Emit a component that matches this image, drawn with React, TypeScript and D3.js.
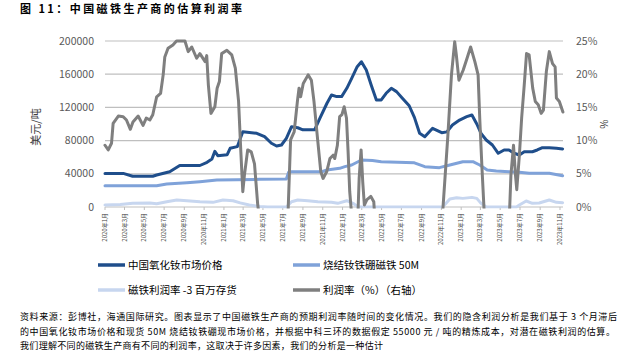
import React from "react";
import * as d3 from "d3";

// ---- Data ----
const oxideDates = ["2020-01-01","2020-02-26","2020-03-26","2020-05-27","2020-06-08","2020-07-18","2020-08-18","2020-10-19","2020-11-10","2020-11-25","2020-12-04","2020-12-13","2021-01-11","2021-01-20","2021-02-11","2021-02-28","2021-04-12","2021-05-06","2021-05-27","2021-06-12","2021-06-27","2021-07-12","2021-07-28","2021-08-16","2021-09-01","2021-10-07","2021-10-23","2021-11-14","2021-11-28","2021-12-14","2021-12-29","2022-01-14","2022-01-29","2022-02-15","2022-02-28","2022-03-15","2022-03-30","2022-04-15","2022-04-30","2022-05-15","2022-05-31","2022-06-16","2022-07-04","2022-07-25","2022-08-10","2022-08-26","2022-09-11","2022-10-05","2022-11-02","2022-11-18","2022-12-05","2022-12-27","2023-01-18","2023-02-03","2023-02-18","2023-03-03","2023-03-19","2023-04-07","2023-04-25","2023-05-13","2023-05-28","2023-06-13","2023-06-29","2023-07-14","2023-08-08","2023-08-23","2023-09-08","2023-09-29","2023-10-21","2023-11-09"];
const oxideValues = [40500,40500,37000,37000,38500,42500,50000,50000,53800,57800,67000,61800,63000,70700,72700,90700,88800,84700,76800,73500,74700,82800,96800,95500,93000,93000,106900,125000,135000,133000,133000,143000,155000,169000,175000,165000,147000,129000,129000,137000,143000,139000,131000,122000,108000,88800,84700,94800,89500,90500,98800,104800,108800,110900,100000,88800,80700,74700,64700,68700,68700,64700,62700,66600,66600,68700,71500,71500,70700,70000];

const magnetDates = ["2020-01-01","2020-06-08","2020-07-09","2020-09-09","2020-10-19","2020-12-10","2021-04-21","2021-07-12","2021-07-19","2021-07-28","2021-10-29","2021-11-14","2021-12-23","2022-01-08","2022-01-29","2022-02-28","2022-04-03","2022-04-30","2022-08-10","2022-09-11","2022-10-26","2022-11-27","2023-01-06","2023-02-06","2023-02-27","2023-03-22","2023-04-19","2023-05-28","2023-06-29","2023-07-29","2023-09-29","2023-11-09"];
const magnetValues = [25700,25700,27700,29300,30500,32500,33300,33700,42000,42500,42500,44600,46600,48600,50600,56600,56000,54600,53200,48600,47400,50600,54600,54600,50600,44600,43400,42500,41800,40600,40600,37700];

const inventoryDates = ["2020-01-01","2020-02-17","2020-03-26","2020-05-18","2020-06-08","2020-07-09","2020-08-09","2020-09-09","2020-10-19","2020-11-28","2020-12-29","2021-01-29","2021-02-20","2021-03-20","2021-04-21","2021-05-15","2021-07-12","2021-07-28","2021-08-16","2021-09-16","2021-10-17","2021-11-28","2021-12-17","2022-01-14","2022-02-02","2022-02-18","2022-11-05","2022-11-27","2022-12-18","2023-01-06","2023-02-03","2023-02-18","2023-03-03","2023-03-19","2023-06-20","2023-06-29","2023-07-20","2023-08-08","2023-08-29","2023-09-29","2023-10-21","2023-11-09"];
const inventoryValues = [2400,3000,4400,4800,4000,6400,8400,7600,6400,5600,8400,7600,5000,2400,600,0,0,6400,8400,7600,6400,5600,4400,7600,4400,0,0,9600,11200,10400,11600,10400,4400,0,0,2400,7200,4400,4800,8400,5600,5200];

const marginDates = ["2020-01-01","2020-01-11","2020-01-21","2020-01-26","2020-02-11","2020-02-26","2020-03-07","2020-03-19","2020-03-27","2020-04-12","2020-04-27","2020-05-07","2020-05-18","2020-05-27","2020-06-08","2020-06-20","2020-06-28","2020-07-03","2020-07-13","2020-07-28","2020-08-08","2020-09-03","2020-09-13","2020-09-24","2020-10-09","2020-10-19","2020-11-04","2020-11-09","2020-11-14","2020-11-22","2020-12-04","2020-12-11","2020-12-18","2020-12-25","2021-01-10","2021-01-25","2021-02-05","2021-02-15","2021-02-22","2021-02-28","2021-03-05","2021-03-15","2021-03-26","2021-04-05","2021-04-15","2021-04-27","2021-07-15","2021-07-25","2021-08-05","2021-08-15","2021-08-20","2021-08-25","2021-09-02","2021-09-17","2021-09-27","2021-10-05","2021-10-15","2021-10-26","2021-11-02","2021-11-13","2021-11-23","2021-12-03","2021-12-08","2021-12-16","2021-12-23","2021-12-30","2022-01-06","2022-01-13","2022-01-18","2022-01-23","2022-02-01","2022-02-16","2022-02-21","2022-02-27","2022-03-04","2022-03-09","2022-03-17","2022-03-29","2022-04-07","2022-04-12","2022-11-02","2022-11-21","2022-12-02","2022-12-12","2022-12-17","2022-12-25","2023-01-07","2023-01-19","2023-01-30","2023-02-12","2023-02-22","2023-02-27","2023-03-06","2023-03-15","2023-05-28","2023-06-03","2023-06-11","2023-06-17","2023-06-21","2023-06-29","2023-07-06","2023-07-14","2023-07-21","2023-07-29","2023-08-09","2023-08-17","2023-08-26","2023-09-04","2023-09-11","2023-09-20","2023-09-29","2023-10-09","2023-10-17","2023-10-21","2023-10-30","2023-11-10"];
const marginValues = [9.3,8.6,9.6,12.6,13.7,13.6,13.1,11.7,12.8,13.7,12.3,13.4,13.1,13.9,16.6,17.1,19.9,22.6,23.9,24.4,25,25,23.4,24.1,22.4,23.1,21.9,22.8,18.4,14.1,15.1,17.9,18.9,23.1,23.6,22.9,20.9,15.9,8.3,2.3,4.8,8.6,8.3,6.5,0.3,-4,-4,10.1,11.3,15.9,17.9,16.6,18.6,19.9,19.1,15.9,10.8,5.3,4.3,5.3,7.3,7.8,7.3,9.3,13.6,13.9,15.1,13.4,8.3,2.3,-3,-3,4.3,8.6,3.8,0.3,1.1,1.6,0.8,-3,-3,10.8,19.9,24.9,22.9,19.1,20.6,22.4,24.1,21.9,19.9,13.4,5.8,-3,-3,4.8,9.3,4.8,2.6,7.8,13.4,18.4,23.1,22.9,17.9,15.9,15.4,14.1,14.6,20.4,23.4,21.6,21.1,16.4,15.9,14.3];

const leftTicks = [0, 40000, 80000, 120000, 160000, 200000];
const rightTicks = [0, 5, 10, 15, 20, 25];
const tickDates = ["2020-01-01","2020-03-01","2020-05-01","2020-07-01","2020-09-01","2020-11-01","2021-01-01","2021-03-01","2021-05-01","2021-07-01","2021-09-01","2021-11-01","2022-01-01","2022-03-01","2022-05-01","2022-07-01","2022-09-01","2022-11-01","2023-01-01","2023-03-01","2023-05-01","2023-07-01","2023-09-01","2023-11-01"];
const tickLabels = ["2020年1月","2020年3月","2020年5月","2020年7月","2020年9月","2020年11月","2021年1月","2021年3月","2021年5月","2021年7月","2021年9月","2021年11月","2022年1月","2022年3月","2022年5月","2022年7月","2022年9月","2022年11月","2023年1月","2023年3月","2023年5月","2023年7月","2023年9月","2023年11月"];

const seriesNames = ["中国氧化钕市场价格", "烧结钕铁硼磁铁 50M", "磁铁利润率 -3 百万存货", "利润率（%）（右轴）"];
const titleText = "图 11：中国磁铁生产商的估算利润率";
const footnotes = [
  "资料来源：彭博社，海通国际研究。图表显示了中国磁铁生产商的预期利润率随时间的变化情况。我们的隐含利润分析是我们基于 3 个月滞后",
  "的中国氧化钕市场价格和现货 50M 烧结钕铁硼现市场价格，并根据中科三环的数据假定 55000 元 / 吨的精炼成本，对潜在磁铁利润的估算。",
  "我们理解不同的磁铁生产商有不同的利润率，这取决于许多因素，我们的分析是一种估计",
];

const COLORS = ["#1F4E8B", "#7FA2D9", "#C7D6EF", "#7F7F7F"];
const FONT = "'Noto Sans CJK SC', 'Noto Sans', sans-serif";

const parse = d3.timeParse("%Y-%m-%d");

export default function App() {
  const W = 619, H = 355;
  const left = 105, right = 563, top = 41, bottom = 207;
  const x = d3.scaleTime().domain([parse("2020-01-01")!, parse("2023-11-01")!]).range([105, 560]);
  const yL = d3.scaleLinear().domain([0, 200000]).range([bottom, top]);
  const yR = d3.scaleLinear().domain([0, 25]).range([bottom, top]);

  const mk = (dates: string[], vals: number[]) => dates.map((d, i) => ({ d: parse(d)!, v: vals[i] }));
  const lineL = d3.line<{ d: Date; v: number }>().x(p => x(p.d)).y(p => yL(p.v));
  const lineR = d3.line<{ d: Date; v: number }>().x(p => x(p.d)).y(p => yR(p.v));

  const paths = [
    { d: lineL(mk(oxideDates, oxideValues)), c: COLORS[0] },
    { d: lineL(mk(magnetDates, magnetValues)), c: COLORS[1] },
    { d: lineL(mk(inventoryDates, inventoryValues)), c: COLORS[2] },
    { d: lineR(mk(marginDates, marginValues)), c: COLORS[3] },
  ];

  const legendPos = [
    { x: 98, y: 265 }, { x: 293, y: 265 }, { x: 98, y: 290 }, { x: 293, y: 290 },
  ];
  const footY = [320, 335, 349];
  const footW = [597, 595, 363];

  return (
    <svg width={W} height={H} style={{ position: "absolute", left: 0, top: 0, background: "#fff" }} fontFamily={FONT}>
      <defs>
        <clipPath id="plotclip">
          <rect x={left - 2} y={top - 3} width={right - left + 6} height={bottom - top + 4.5} />
        </clipPath>
      </defs>
      <text x={20} y={12.5} fontSize={11} fontWeight="bold" fill="#000" textLength={222} lengthAdjust="spacing">{titleText}</text>

      {leftTicks.map(t => (
        <line key={"g" + t} x1={left} x2={right} y1={yL(t)} y2={yL(t)} stroke="#BFBFBF" strokeWidth={1.2} />
      ))}
      {leftTicks.map(t => (
        <text key={"l" + t} x={94} y={yL(t)} dy="0.35em" textAnchor="end" fontSize={10.5} fill="#595959">{t}</text>
      ))}
      {rightTicks.map(t => (
        <text key={"r" + t} x={576} y={yR(t)} dy="0.35em" textAnchor="start" fontSize={10.5} fill="#595959">{t}%</text>
      ))}
      <text transform="translate(40,127) rotate(-90)" textAnchor="middle" fontSize={11} fill="#404040">美元/吨</text>
      <text transform="translate(600,124) rotate(90)" textAnchor="middle" fontSize={10} fill="#404040">%</text>

      {tickDates.map((t, i) => {
        const px = x(parse(t)!);
        return (
          <g key={t}>
            <line x1={px} x2={px} y1={bottom} y2={bottom + 3} stroke="#BFBFBF" />
            <text transform={`translate(${px + 2},${bottom + 6}) rotate(-90)`} textAnchor="end" fontSize={6} fill="#404040">{tickLabels[i]}</text>
          </g>
        );
      })}

      <g clipPath="url(#plotclip)">
        {paths.map((p, i) => (
          <path key={i} d={p.d || ""} fill="none" stroke={p.c} strokeWidth={3} strokeLinejoin="round" strokeLinecap="round" />
        ))}
      </g>

      {seriesNames.map((n, i) => (
        <g key={n}>
          <line x1={legendPos[i].x} x2={legendPos[i].x + 27} y1={legendPos[i].y} y2={legendPos[i].y} stroke={COLORS[i]} strokeWidth={3.5} />
          <text x={legendPos[i].x + 30} y={legendPos[i].y} dy="0.35em" fontSize={10.5} fill="#000">{n}</text>
        </g>
      ))}

      {footnotes.map((f, i) => (
        <text key={i} x={20} y={footY[i]} fontSize={9} fill="#000" textLength={footW[i]} lengthAdjust="spacing">{f}</text>
      ))}
    </svg>
  );
}
